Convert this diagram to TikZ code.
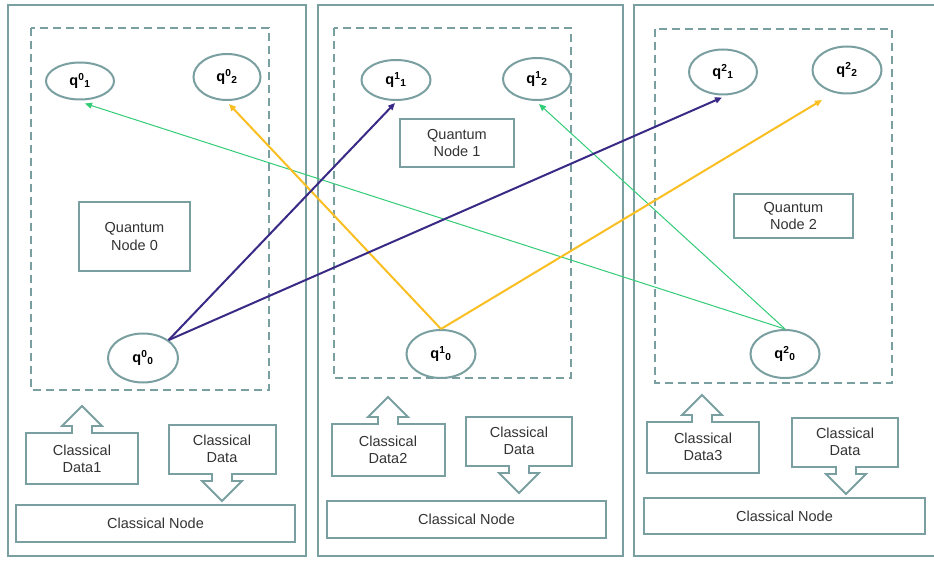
\documentclass[tikz,border=0pt]{standalone}
\usepackage{fontspec}
\setmainfont{Liberation Sans}
\usetikzlibrary{shapes.geometric,arrows.meta}
\definecolor{frame}{HTML}{7A9FA0}
\definecolor{qpurple}{HTML}{3A2A86}
\definecolor{qyellow}{HTML}{F9BF22}
\definecolor{qgreen}{HTML}{33CC77}
\newcommand\updatabox[5]{%
  \draw[dbox] (#1,#3) -- ({#5-10},#3) -- ({#5-10},{#3-7}) -- ({#5-20},{#3-7}) -- (#5,{#3-27})
    -- ({#5+20},{#3-7}) -- ({#5+10},{#3-7}) -- ({#5+10},#3) -- (#2,#3) -- (#2,#4) -- (#1,#4) -- cycle;}
\newcommand\downdatabox[5]{%
  \draw[dbox] (#1,#3) -- (#2,#3) -- (#2,#4) -- ({#5+10},#4) -- ({#5+10},{#4+7}) -- ({#5+20},{#4+7})
    -- (#5,{#4+27}) -- ({#5-20},{#4+7}) -- ({#5-10},{#4+7}) -- ({#5-10},#4) -- (#1,#4) -- cycle;}
\begin{document}
\begin{tikzpicture}[x=1pt,y=-1pt,
  every node/.style={font=\fontsize{14.5}{17.5}\selectfont, align=center, inner sep=0pt},
  panel/.style={draw=frame, line width=2pt},
  qarea/.style={draw=frame, line width=2pt, dash pattern=on 8pt off 5pt},
  qubit/.style={ellipse, draw=frame, line width=2pt, minimum width=68pt, font=\fontsize{14.5}{16}\selectfont\bfseries},
  box/.style={rectangle, draw=frame, line width=1.8pt},
  dbox/.style={draw=frame, line width=1.8pt, line join=miter},
  dtext/.style={text=black!80},
  link/.style={-{Triangle[length=7pt,width=6pt]}},
  lp/.style={link, draw=qpurple, line width=2pt},
  ly/.style={link, draw=qyellow, line width=2pt},
  lg/.style={link, draw=qgreen, line width=1pt}
]
\useasboundingbox (0,0) rectangle (934,561);
\fill[white] (0,0) rectangle (934,561);
% panels
\draw[panel] (8,5) rectangle (306,556);
\draw[panel] (318,5) rectangle (623,556);
\draw[panel] (634,5) rectangle (940,556);
% quantum areas
\draw[qarea] (31,28) rectangle (269,390);
\draw[qarea] (334,28) rectangle (571,378);
\draw[qarea] (655,29) rectangle (892,383);
% qubits
\node[qubit, minimum height=37pt] (q01) at (80,81) {q\textsuperscript{0}\textsubscript{1}};
\node[qubit, minimum height=46pt, minimum width=67pt] (q02) at (227,77) {q\textsuperscript{0}\textsubscript{2}};
\node[qubit, minimum height=49pt, minimum width=70pt] (q00) at (143,358) {q\textsuperscript{0}\textsubscript{0}};
\node[qubit, minimum height=40pt, minimum width=69pt] (q11) at (396,80) {q\textsuperscript{1}\textsubscript{1}};
\node[qubit, minimum height=42pt] (q12) at (537,79) {q\textsuperscript{1}\textsubscript{2}};
\node[qubit, minimum height=48pt, minimum width=69pt] (q10) at (441,354) {q\textsuperscript{1}\textsubscript{0}};
\node[qubit, minimum height=45pt] (q21) at (723,72) {q\textsuperscript{2}\textsubscript{1}};
\node[qubit, minimum height=47pt, minimum width=69pt] (q22) at (847,70) {q\textsuperscript{2}\textsubscript{2}};
\node[qubit, minimum height=48pt, minimum width=69pt] (q20) at (785,354) {q\textsuperscript{2}\textsubscript{0}};
% quantum node labels
\node[box, minimum width=111pt, minimum height=69pt, dtext] (qn0) at (134.5,236.5) {Quantum\\Node 0};
\node[box, minimum width=114pt, minimum height=48pt, dtext] (qn1) at (457,143) {Quantum\\Node 1};
\node[box, minimum width=119pt, minimum height=44pt, dtext] (qn2) at (793.5,216) {Quantum\\Node 2};
% classical data
\updatabox{26}{138}{433}{484}{82}
\node[dtext] (cd1) at (82,459) {Classical\\Data1};
\downdatabox{169}{276}{425}{474}{222}
\node[dtext] (co0) at (222,449) {Classical\\Data};
\updatabox{332}{445}{424}{476}{388}
\node[dtext] (cd2) at (388,450) {Classical\\Data2};
\downdatabox{466}{572}{417}{466}{519}
\node[dtext] (co1) at (519,441) {Classical\\Data};
\updatabox{647}{759}{422}{473}{702}
\node[dtext] (cd3) at (703,447) {Classical\\Data3};
\downdatabox{792}{898}{418}{467}{846}
\node[dtext] (co2) at (845,442) {Classical\\Data};
% classical nodes
\node[box, minimum width=279pt, minimum height=37pt, dtext] (cn0) at (155.5,523.5) {Classical Node};
\node[box, minimum width=279pt, minimum height=37pt, dtext] (cn1) at (466.5,519.5) {Classical Node};
\node[box, minimum width=281pt, minimum height=36pt, dtext] (cn2) at (784.5,516) {Classical Node};
% connectors
\draw[lg] (q20.north) -- ([xshift=5pt,yshift=-3pt]q01.south);
\draw[lg] (q20.north) -- ([xshift=2pt,yshift=-3pt]q12.south);
\draw[ly] (q10.north) -- ([xshift=2pt,yshift=-3pt]q02.south);
\draw[ly] (q10.north) -- ([xshift=-25pt,yshift=-5.5pt]q22.south);
\draw[lp] (q00.35) -- ([xshift=-1pt,yshift=-2pt]q11.south);
\draw[lp] (q00.35) -- ([xshift=-1pt,yshift=-2pt]q21.south);
\end{tikzpicture}
\end{document}
